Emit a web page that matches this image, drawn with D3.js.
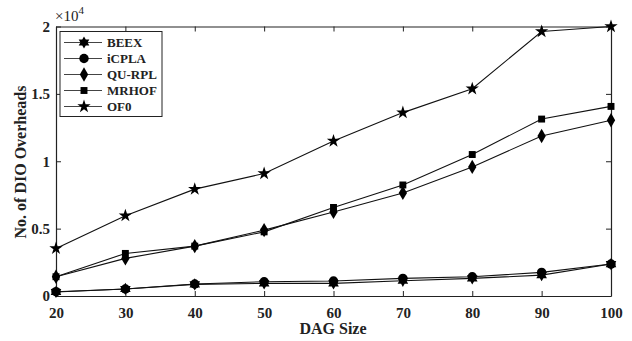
<!DOCTYPE html>
<html>
<head>
<meta charset="utf-8">
<script src="https://cdn.jsdelivr.net/npm/d3@7"></script>
<style>
  body { margin: 0; background: #fff; }
  svg { display: block; font-family: 'Liberation Serif', 'Times New Roman', serif; font-weight: bold; }
</style>
</head>
<body>
<div class="container"></div>
<script>
// DAG sizes on x axis
const dagSizes = [20, 30, 40, 50, 60, 70, 80, 90, 100];

// DIO overheads per protocol
const beex = [300, 520, 860, 940, 940, 1130, 1310, 1550, 2370];
const icpla = [320, 520, 890, 1060, 1110, 1310, 1430, 1750, 2370];
const quRpl = [1430, 2790, 3700, 4890, 6240, 7650, 9580, 11870, 13040];
const mrhof = [1430, 3160, 3700, 4760, 6570, 8240, 10500, 13130, 14070];
const of0 = [3530, 5960, 7930, 9090, 11500, 13610, 15380, 19630, 20000];

const xTicks = [20, 30, 40, 50, 60, 70, 80, 90, 100];
const yTicks = [0, 5000, 10000, 15000, 20000];

const w = 632;
const h = 341;
const padL = 56, padR = 611, padT = 26.5, padB = 296;

// MATLAB style hexagram marker
const hexagram = {
  draw(ctx, size) {
    const r = Math.sqrt(size / 1.6);
    const ri = r * 0.58;
    for (let i = 0; i < 12; i++) {
      const a = -Math.PI / 2 + i * Math.PI / 6;
      const rr = i % 2 === 0 ? r : ri;
      const x = rr * Math.cos(a), y = rr * Math.sin(a);
      if (i === 0) ctx.moveTo(x, y); else ctx.lineTo(x, y);
    }
    ctx.closePath();
  }
};

const series = [
  { name: 'BEEX', values: beex, symbol: hexagram, size: 60 },
  { name: 'iCPLA', values: icpla, symbol: d3.symbolCircle, size: 70 },
  { name: 'QU-RPL', values: quRpl, symbol: d3.symbolDiamond, size: 60 },
  { name: 'MRHOF', values: mrhof, symbol: d3.symbolSquare, size: 48 },
  { name: 'OF0', values: of0, symbol: d3.symbolStar, size: 55 }
];

const svg = d3.select('.container')
  .append('svg')
  .attr('width', w)
  .attr('height', h);

const xScale = d3.scaleLinear().domain([20, 100]).range([padL, padR]);
const yScale = d3.scaleLinear().domain([0, 20000]).range([padB, padT]);

const fmtY = (d) => d3.format('')(d / 10000);

// axes with inward ticks on all four sides
svg.append('g')
  .attr('class', 'axis')
  .attr('transform', 'translate(0,' + padB + ')')
  .call(d3.axisBottom(xScale).tickValues(xTicks).tickSizeInner(-5).tickSizeOuter(0).tickPadding(11));
svg.append('g')
  .attr('class', 'axis')
  .attr('transform', 'translate(0,' + padT + ')')
  .call(d3.axisTop(xScale).tickValues(xTicks).tickSizeInner(-5).tickSizeOuter(0).tickFormat(''));
svg.append('g')
  .attr('class', 'axis')
  .attr('transform', 'translate(' + padL + ',0)')
  .call(d3.axisLeft(yScale).tickValues(yTicks).tickSizeInner(-5).tickSizeOuter(0).tickPadding(6).tickFormat(fmtY));
svg.append('g')
  .attr('class', 'axis')
  .attr('transform', 'translate(' + padR + ',0)')
  .call(d3.axisRight(yScale).tickValues(yTicks).tickSizeInner(-5).tickSizeOuter(0).tickFormat(''));

svg.selectAll('.axis path').attr('stroke', '#222').attr('stroke-width', 1.2);
svg.selectAll('.axis line').attr('stroke', '#222');
svg.selectAll('.axis text')
  .style('font-family', "'Liberation Serif', serif")
  .style('font-weight', 'bold')
  .style('font-size', '15px')
  .attr('fill', '#222');

// exponent
const expo = svg.append('text')
  .attr('x', padL - 1)
  .attr('y', 21)
  .style('font-size', '15px')
  .style('font-weight', 'normal')
  .attr('fill', '#222');
expo.append('tspan').text('×10');
expo.append('tspan').attr('dy', -7).style('font-size', '11px').text('4');

// axis titles
svg.append('text')
  .attr('x', 333)
  .attr('y', 334)
  .attr('text-anchor', 'middle')
  .style('font-size', '16px')
  .attr('fill', '#222')
  .text('DAG Size');

svg.append('text')
  .attr('transform', 'rotate(-90)')
  .attr('x', -162)
  .attr('y', 26)
  .attr('text-anchor', 'middle')
  .style('font-size', '16px')
  .attr('fill', '#222')
  .text('No. of DIO Overheads');

const line = d3.line()
  .x((d, i) => xScale(dagSizes[i]))
  .y((d) => yScale(d));

series.forEach((s) => {
  svg.append('path')
    .datum(s.values)
    .attr('d', line)
    .attr('fill', 'none')
    .attr('stroke', '#111')
    .attr('stroke-width', 1.1);

  svg.selectAll(null)
    .data(s.values)
    .enter()
    .append('path')
    .attr('transform', (d, i) => 'translate(' + xScale(dagSizes[i]) + ',' + yScale(d) + ')')
    .attr('d', d3.symbol().type(s.symbol).size(s.size))
    .attr('fill', '#000');
});

// legend
const legend = svg.append('g').attr('transform', 'translate(60,31.5)');
legend.append('rect')
  .attr('width', 102)
  .attr('height', 85)
  .attr('fill', '#fff')
  .attr('stroke', '#222')
  .attr('stroke-width', 1);

series.forEach((s, i) => {
  const y = 11 + i * 16;
  legend.append('line')
    .attr('x1', 4).attr('x2', 42)
    .attr('y1', y).attr('y2', y)
    .attr('stroke', '#444')
    .attr('stroke-width', 1.1);
  legend.append('path')
    .attr('transform', 'translate(24,' + y + ')')
    .attr('d', d3.symbol().type(s.symbol).size(s.size))
    .attr('fill', '#000');
  legend.append('text')
    .attr('x', 47)
    .attr('y', y + 4.5)
    .style('font-size', '13px')
    .attr('fill', '#222')
    .text(s.name);
});
</script>
</body>
</html>
